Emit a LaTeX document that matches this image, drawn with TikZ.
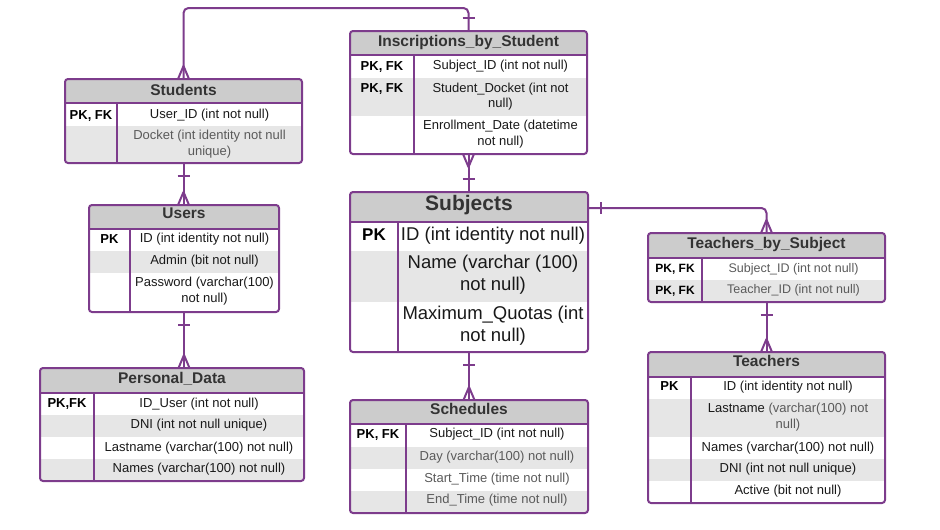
\documentclass[tikz,border=0pt]{standalone}
\usepackage{fontspec}
\setmainfont{Liberation Sans}
\definecolor{erpurple}{RGB}{125,60,140}
\definecolor{headgray}{RGB}{204,204,204}
\definecolor{rowgray}{RGB}{230,230,230}
\definecolor{titlegray}{RGB}{51,51,51}
\definecolor{fieldgray}{RGB}{90,90,90}
\tikzset{
  tbl/.style={draw=erpurple, line width=2pt, rounded corners=3pt, inner sep=0pt, outer sep=0pt, anchor=north west},
  divider/.style={draw=erpurple, line width=2pt},
  rel/.style={draw=erpurple, line width=2pt, line join=round},
  headrow/.style={fill=headgray},
  altrow/.style={fill=rowgray},
  tbltitle/.style={font=\bfseries\fontsize{15.5}{18}\selectfont, text=titlegray, text height=11.6, text depth=3.4, inner sep=0pt, yshift=-1.5pt},
  pkey/.style={font=\bfseries\fontsize{13}{15}\selectfont, text height=9.75, text depth=2.9, inner sep=0pt, yshift=-2pt},
  field/.style={font=\fontsize{13}{15.7}\selectfont, align=center, inner sep=0pt, text=black!90, yshift=-2pt},
  fielddim/.style={field, text=fieldgray},
  bigtitle/.style={tbltitle, font=\bfseries\fontsize{21}{24}\selectfont, text height=15.5, text depth=4.6},
  bigkey/.style={pkey, font=\bfseries\fontsize{17}{20}\selectfont, text height=12.7, text depth=3.7},
  bigfield/.style={field, font=\fontsize{18.5}{22}\selectfont},
  smallkey/.style={pkey, font=\bfseries\fontsize{12}{14}\selectfont, text height=9, text depth=2.7},
  smallfield/.style={fielddim, font=\fontsize{12.5}{15}\selectfont},
}
\begin{document}
\begin{tikzpicture}[x=1pt, y=-1pt]
  \useasboundingbox (0,0) rectangle (940,530);
  % Students
  \fill[headrow] (65,79) rectangle (302,103);
  \fill[altrow] (65,126) rectangle (302,163);
  \draw[divider] (65,103) -- (302,103) (117,103) -- (117,163);
  \node[tbl, minimum width=237, minimum height=84] (students) at (65,79) {};
  \node[tbltitle] (students-t) at (183.5,90) {Students};
  \node[pkey] (students-k1) at (91,114) {PK, FK};
  \node[field] (students-f1) at (209.5,113.5) {User\_ID (int not null)};
  \node[fielddim] (students-f2) at (209.5,142) {Docket (int identity not null\\unique)};
  % Users
  \fill[headrow] (89,205) rectangle (279,229);
  \fill[altrow] (89,251) rectangle (279,273);
  \draw[divider] (89,229) -- (279,229) (130,229) -- (130,312);
  \node[tbl, minimum width=190, minimum height=107] (users) at (89,205) {};
  \node[tbltitle] (users-t) at (184,213) {Users};
  \node[pkey] (users-k1) at (109.5,238) {PK};
  \node[field] (users-f1) at (204.5,237.5) {ID (int identity not null)};
  \node[field] (users-f2) at (204.5,259.5) {Admin (bit not null)};
  \node[field] (users-f3) at (204.5,289) {Password (varchar(100)\\not null)};
  % Personal_Data
  \fill[headrow] (40,368) rectangle (304,393);
  \fill[altrow] (40,415) rectangle (304,437);
  \fill[altrow] (40,459) rectangle (304,481);
  \draw[divider] (40,393) -- (304,393) (94,393) -- (94,481);
  \node[tbl, minimum width=264, minimum height=113] (pdata) at (40,368) {};
  \node[tbltitle] (pdata-t) at (172,377.5) {Personal\_Data};
  \node[pkey] (pdata-k1) at (67,402) {PK,FK};
  \node[field] (pdata-f1) at (199,401.7) {ID\_User (int not null)};
  \node[field] (pdata-f2) at (199,423.3) {DNI (int not null unique)};
  \node[field] (pdata-f3) at (199,445.7) {Lastname (varchar(100) not null)};
  \node[field] (pdata-f4) at (199,467.3) {Names (varchar(100) not null)};
  % Inscriptions_by_Student
  \fill[headrow] (350,31) rectangle (587,55);
  \fill[altrow] (350,78) rectangle (587,116);
  \draw[divider] (350,55) -- (587,55) (414,55) -- (414,154);
  \node[tbl, minimum width=237, minimum height=123] (inscr) at (350,31) {};
  \node[tbltitle] (inscr-t) at (468.5,41) {Inscriptions\_by\_Student};
  \node[pkey] (inscr-k1) at (382,65) {PK, FK};
  \node[pkey] (inscr-k2) at (382,87) {PK, FK};
  \node[field] (inscr-f1) at (500.5,64.5) {Subject\_ID (int not null)};
  \node[field] (inscr-f2) at (500.5,94.5) {Student\_Docket (int not\\null)};
  \node[field] (inscr-f3) at (500.5,132) {Enrollment\_Date (datetime\\not null)};
  % Subjects
  \fill[headrow] (350,192) rectangle (588,222);
  \fill[altrow] (350,251) rectangle (588,302);
  \draw[divider] (350,222) -- (588,222) (398,222) -- (398,352);
  \node[tbl, minimum width=238, minimum height=160] (subjects) at (350,192) {};
  \node[bigtitle] (subjects-t) at (469,203.5) {Subjects};
  \node[bigkey] (subjects-k1) at (374,234) {PK};
  \node[bigfield] (subjects-f1) at (493,234) {ID (int identity not null)};
  \node[bigfield] (subjects-f2) at (493,273) {Name (varchar (100)\\not null)};
  \node[bigfield] (subjects-f3) at (493,323.5) {Maximum\_Quotas (int\\not null)};
  % Teachers_by_Subject
  \fill[headrow] (648,233) rectangle (885,258);
  \fill[altrow] (648,280) rectangle (885,302);
  \draw[divider] (648,258) -- (885,258) (702,258) -- (702,302);
  \node[tbl, minimum width=237, minimum height=69] (tbs) at (648,233) {};
  \node[tbltitle] (tbs-t) at (766.5,242.5) {Teachers\_by\_Subject};
  \node[smallkey] (tbs-k1) at (675,267) {PK, FK};
  \node[smallkey] (tbs-k2) at (675,289) {PK, FK};
  \node[smallfield] (tbs-f1) at (793.5,267) {Subject\_ID (int not null)};
  \node[smallfield] (tbs-f2) at (793.5,288.5) {Teacher\_ID (int not null)};
  % Teachers
  \fill[headrow] (648,352) rectangle (885,377);
  \fill[altrow] (648,399) rectangle (885,437);
  \fill[altrow] (648,459) rectangle (885,481);
  \draw[divider] (648,377) -- (885,377) (691,377) -- (691,503);
  \node[tbl, minimum width=237, minimum height=151] (teachers) at (648,352) {};
  \node[tbltitle] (teachers-t) at (766.5,360.5) {Teachers};
  \node[pkey] (teachers-k1) at (669.5,385.5) {PK};
  \node[field] (teachers-f1) at (788,385) {ID (int identity not null)};
  \node[field] (teachers-f2) at (788,415) {Lastname {\color{fieldgray}(varchar(100) not}\\{\color{fieldgray}null)}};
  \node[field] (teachers-f3) at (788,445.7) {Names (varchar(100) not null)};
  \node[field] (teachers-f4) at (788,467.3) {DNI (int not null unique)};
  \node[field] (teachers-f5) at (788,489) {Active (bit not null)};
  % Schedules
  \fill[headrow] (350,400) rectangle (588,424);
  \fill[altrow] (350,447) rectangle (588,469);
  \fill[altrow] (350,491) rectangle (588,513);
  \draw[divider] (350,424) -- (588,424) (406,424) -- (406,513);
  \node[tbl, minimum width=238, minimum height=113] (schedules) at (350,400) {};
  \node[tbltitle] (schedules-t) at (469,408.5) {Schedules};
  \node[pkey] (schedules-k1) at (378,433) {PK, FK};
  \node[field] (schedules-f1) at (497,432.3) {Subject\_ID (int not null)};
  \node[fielddim] (schedules-f2) at (497,455) {Day (varchar(100) not null)};
  \node[fielddim] (schedules-f3) at (497,476.7) {Start\_Time (time not null)};
  \node[fielddim] (schedules-f4) at (497,497.7) {End\_Time (time not null)};
  % relations
  \draw[rel, rounded corners=5pt] (students.north) -- ++(0,-71) -| (inscr.north);
  \draw[rel] (students.north) ++(-5.5,0) -- ++(5.5,-13) -- ++(5.5,13);
  \draw[rel] (inscr.north) ++(-6,-13) -- ++(12,0);
  \draw[rel] (students.south) -- (students.south |- users.north);
  \draw[rel] (students.south) ++(-6,13) -- ++(12,0);
  \draw[rel] (students.south |- users.north) ++(-5.5,0) -- ++(5.5,-13) -- ++(5.5,13);
  \draw[rel] (users.south) -- (users.south |- pdata.north);
  \draw[rel] (users.south) ++(-6,13) -- ++(12,0);
  \draw[rel] (users.south |- pdata.north) ++(-5.5,0) -- ++(5.5,-13) -- ++(5.5,13);
  \draw[rel] (inscr.south) -- (inscr.south |- subjects.north);
  \draw[rel] (inscr.south) ++(-5.5,0) -- ++(5.5,13) -- ++(5.5,-13);
  \draw[rel] (inscr.south |- subjects.north) ++(-6,-13) -- ++(12,0);
  \coordinate (subjects-out) at ([yshift=-16pt]subjects.north east);
  \draw[rel, rounded corners=5pt] (subjects-out) -| (tbs.north);
  \draw[rel] (subjects-out) ++(13,-6) -- ++(0,12);
  \draw[rel] (tbs.north) ++(-5.5,0) -- ++(5.5,-13) -- ++(5.5,13);
  \draw[rel] (subjects.south) -- (subjects.south |- schedules.north);
  \draw[rel] (subjects.south) ++(-6,13) -- ++(12,0);
  \draw[rel] (subjects.south |- schedules.north) ++(-5.5,0) -- ++(5.5,-13) -- ++(5.5,13);
  \draw[rel] (tbs.south) -- (tbs.south |- teachers.north);
  \draw[rel] (tbs.south) ++(-6,13) -- ++(12,0);
  \draw[rel] (tbs.south |- teachers.north) ++(-5.5,0) -- ++(5.5,-13) -- ++(5.5,13);
\end{tikzpicture}
\end{document}
